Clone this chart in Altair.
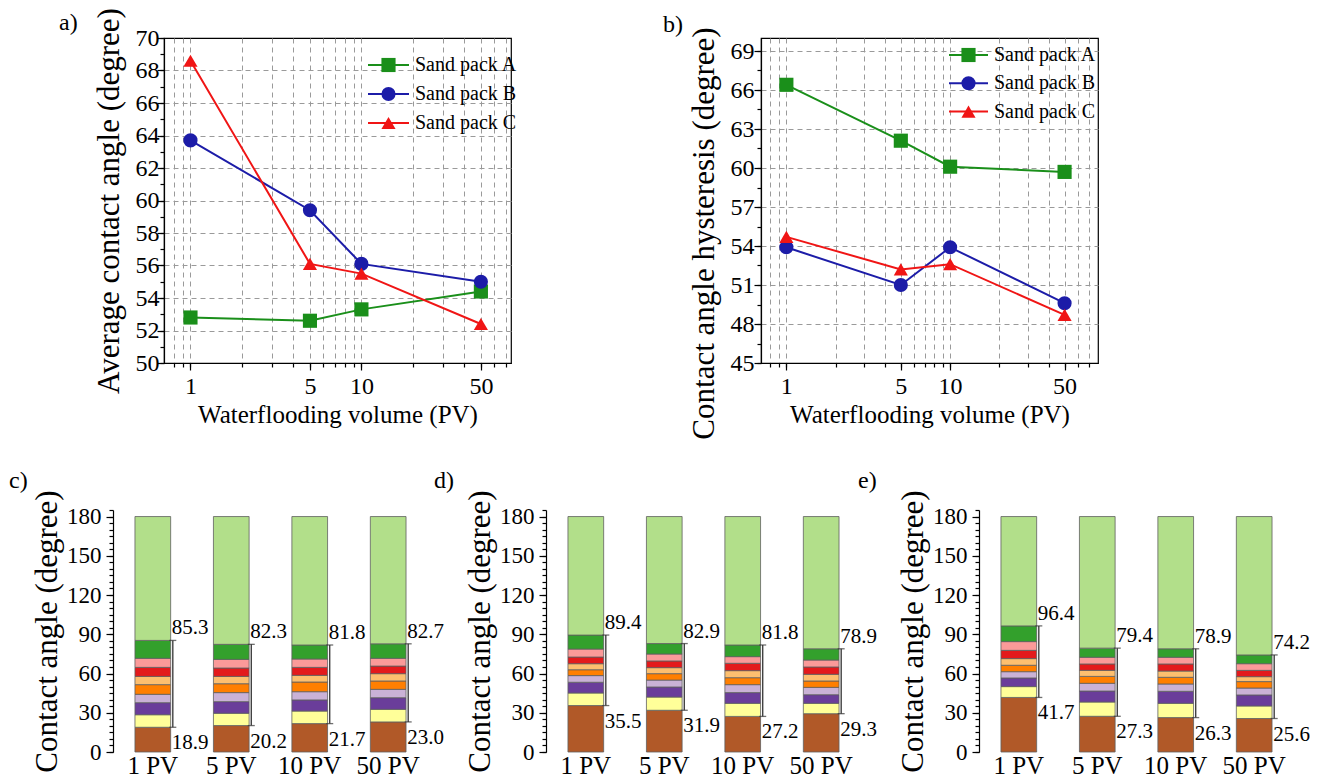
import altair as alt
import pandas as pd

FONT = "Liberation Serif"

# ---------------- data: panels a) and b) ----------------
PV = [1, 5, 10, 50]
SERIES = ["Sand pack A", "Sand pack B", "Sand pack C"]

AVG_A = [52.8, 52.6, 53.3, 54.4]
AVG_B = [63.7, 59.4, 56.1, 55.0]
AVG_C = [68.6, 56.1, 55.5, 52.4]

HYS_A = [66.4, 62.1, 60.1, 59.7]
HYS_B = [53.9, 51.0, 53.9, 49.6]
HYS_C = [54.7, 52.2, 52.6, 48.7]

A_Y_MAJOR = [50, 52, 54, 56, 58, 60, 62, 64, 66, 68, 70]
A_Y_MINOR = [50, 51, 52, 53, 54, 55, 56, 57, 58, 59, 60, 61, 62, 63, 64, 65, 66, 67, 68, 69, 70]
A_Y_GRID = [52, 54, 56, 58, 60, 62, 64, 66, 68]
B_Y_MAJOR = [45, 48, 51, 54, 57, 60, 63, 66, 69]
B_Y_MINOR = [45, 46.5, 48, 49.5, 51, 52.5, 54, 55.5, 57, 58.5, 60, 61.5, 63, 64.5, 66, 67.5, 69]
B_Y_GRID = [48, 51, 54, 57, 60, 63, 66, 69]
X_GRID = [0.8, 0.9, 1, 2, 3, 4, 5, 6, 7, 8, 9, 10, 20, 30, 40, 50, 60, 70]

LINE_COLORS = ["#1a8f1a", "#1c1ca8", "#f01515"]
SHAPES = ["square", "circle", "triangle-up"]

# ---------------- data: panels c) d) e) ----------------
PV_LABELS = ["1 PV", "5 PV", "10 PV", "50 PV"]
SEGMENTS = ["s01", "s02", "s03", "s04", "s05", "s06", "s07", "s08", "s09", "s10"]
SEG_COLORS = ["#b15928", "#ffff99", "#6a3d9a", "#cab2d6", "#ff7f00",
              "#fdbf6f", "#e31a1c", "#fb9a99", "#33a02c", "#b2df8a"]
BAR_TOP = 180

# upper edges of the first nine stacked segments (the tenth runs to 180)
C_EDGES = [
    [18.9, 28.5, 37.7, 44.1, 51.5, 57.8, 64.7, 71.6, 85.3],
    [20.2, 29.6, 38.5, 45.4, 52.2, 57.8, 64.2, 70.8, 82.3],
    [21.7, 31.3, 39.8, 46.1, 53.5, 58.6, 64.7, 71.1, 81.8],
    [23.0, 32.6, 41.5, 47.9, 54.3, 59.9, 65.7, 71.6, 82.7],
]
D_EDGES = [
    [35.5, 45.1, 53.3, 58.4, 62.9, 67.5, 72.6, 78.7, 89.4],
    [31.9, 42.0, 49.7, 55.0, 59.9, 64.5, 69.6, 74.9, 82.9],
    [27.2, 37.2, 45.4, 51.5, 56.8, 62.2, 67.8, 72.9, 81.8],
    [29.3, 37.2, 43.8, 49.4, 54.3, 59.4, 65.0, 70.3, 78.9],
]
E_EDGES = [
    [41.7, 50.0, 56.6, 61.4, 66.3, 71.4, 77.7, 84.4, 96.4],
    [27.3, 38.2, 46.6, 52.5, 57.8, 62.4, 67.3, 72.4, 79.4],
    [26.3, 37.2, 46.4, 52.0, 57.1, 61.9, 67.3, 72.4, 78.9],
    [25.6, 35.2, 43.6, 48.9, 53.8, 57.6, 62.4, 67.5, 74.2],
]
BAR_Y_MAJOR = [0, 30, 60, 90, 120, 150, 180]
BAR_Y_MINOR = [0, 5, 10, 15, 20, 25, 30, 35, 40, 45, 50, 55, 60, 65, 70, 75, 80, 85, 90,
               95, 100, 105, 110, 115, 120, 125, 130, 135, 140, 145, 150, 155, 160, 165,
               170, 175, 180, 185]

ONE = pd.DataFrame({"k": [0]})
GRID_COLOR = "#9a9a9a"
BAR_W, BAR_H = 315, 242


def anchor(x, y):
    return alt.Chart(ONE).mark_rule(opacity=0, strokeWidth=0).encode(
        x=alt.value(x), x2=alt.value(x), y=alt.value(y), y2=alt.value(y))


def panel_label(text, x, y):
    return alt.Chart(ONE).mark_text(align="left", baseline="alphabetic", fontSize=24,
                                    font=FONT, color="black").encode(
        x=alt.value(x), y=alt.value(y), text=alt.value(text))


def line_panel(vals, y_dom, y_major, y_minor, y_grid, x_dom, width, height, y_title,
               y_lab_pad, title_y, label, label_xy, legend_geo, anchors):
    rows = [{"pv": p, "series": s, "value": v}
            for s, vs in zip(SERIES, vals) for p, v in zip(PV, vs)]
    df = pd.DataFrame(rows)
    xs = alt.Scale(type="log", domain=x_dom, nice=False)
    ys = alt.Scale(domain=y_dom, nice=False, zero=False)
    col = alt.Color("series:N", scale=alt.Scale(domain=SERIES, range=LINE_COLORS), legend=None)
    shp = alt.Shape("series:N", scale=alt.Scale(domain=SERIES, range=SHAPES), legend=None)
    base = alt.Chart(df)

    grid_layer = base.mark_point(opacity=0).encode(
        x=alt.X("pv:Q", scale=xs, axis=alt.Axis(
            orient="bottom", values=X_GRID, grid=True, gridDash=[5, 4], gridColor=GRID_COLOR,
            gridWidth=1, labels=False, ticks=True, tickSize=4, domain=False, title=None)),
        y=alt.Y("value:Q", scale=ys, axis=alt.Axis(
            orient="left", values=y_grid, grid=True, gridDash=[5, 4], gridColor=GRID_COLOR,
            gridWidth=1, labels=False, ticks=False, domain=False, title=None)),
    )
    minor_layer = base.mark_point(opacity=0).encode(
        x=alt.X("pv:Q", scale=xs, axis=None),
        y=alt.Y("value:Q", scale=ys, axis=alt.Axis(
            orient="left", values=y_minor, labels=False, ticks=True, tickSize=4,
            grid=False, domain=False, title=None)),
    )
    y_axis_kw = dict(
        orient="left", values=y_major, format="d", grid=False, tickSize=7,
        labelFont=FONT, labelFontSize=24, labelPadding=y_lab_pad, labelFlush=False,
        labelOverlap=False, title=y_title, titleFont=FONT, titleFontSize=31, titlePadding=10)
    if title_y is not None:
        y_axis_kw["titleY"] = title_y
    line_layer = base.mark_line(strokeWidth=2).encode(
        x=alt.X("pv:Q", scale=xs, axis=alt.Axis(
            orient="bottom", values=PV, format="d", grid=False, tickSize=7,
            labelFont=FONT, labelFontSize=24, labelPadding=4, labelFlush=False,
            labelOverlap=False, title="Waterflooding volume (PV)", titleFont=FONT,
            titleFontSize=25, titlePadding=4)),
        y=alt.Y("value:Q", scale=ys, axis=alt.Axis(**y_axis_kw)),
        color=col,
    )
    point_layer = base.mark_point(filled=True, size=200, opacity=1).encode(
        x=alt.X("pv:Q", scale=xs, axis=None),
        y=alt.Y("value:Q", scale=ys, axis=None),
        color=col, shape=shp,
    )

    lx1, lx2, ltx, ly0, ldy = legend_geo
    legend = []
    for i, s in enumerate(SERIES):
        yy = ly0 + i * ldy
        d = pd.DataFrame({"series": [s]})
        legend.append(alt.Chart(d).mark_rule(color=LINE_COLORS[i], strokeWidth=2).encode(
            x=alt.value(lx1), x2=alt.value(lx2), y=alt.value(yy)))
        legend.append(alt.Chart(d).mark_point(filled=True, size=200, opacity=1,
                                              color=LINE_COLORS[i], shape=SHAPES[i]).encode(
            x=alt.value((lx1 + lx2) / 2), y=alt.value(yy)))
        legend.append(alt.Chart(d).mark_text(align="left", baseline="middle", fontSize=20,
                                             font=FONT, color="black").encode(
            x=alt.value(ltx), y=alt.value(yy), text="series:N"))

    layers = [grid_layer, minor_layer, line_layer, point_layer] + legend + \
        [panel_label(label, *label_xy)] + [anchor(ax, ay) for ax, ay in anchors]
    return alt.layer(*layers).resolve_axis(x="independent", y="independent").properties(
        width=width, height=height, view=alt.ViewBackground(stroke="black", strokeWidth=1.2))


def bar_panel(edges, label, label_xy, anchors):
    seg_rows = []
    for pvl, b in zip(PV_LABELS, edges):
        e = [0] + list(b) + [BAR_TOP]
        for k, seg in enumerate(SEGMENTS):
            seg_rows.append({"pv": pvl, "seg": seg, "lo": e[k], "hi": e[k + 1]})
    seg_df = pd.DataFrame(seg_rows)
    err_df = pd.DataFrame({"pv": PV_LABELS,
                           "lo": [b[0] for b in edges],
                           "hi": [b[-1] for b in edges]})
    xs = alt.Scale(domain=PV_LABELS, paddingInner=0.545, paddingOuter=0.28)
    ys = alt.Scale(domain=[0, 185], nice=False, zero=True)
    xna = alt.X("pv:N", scale=xs, axis=None)

    bars = alt.Chart(seg_df).mark_bar(stroke="#606060", strokeWidth=0.8).encode(
        x=alt.X("pv:N", scale=xs, axis=alt.Axis(
            orient="bottom", ticks=False, labels=False, title=None)),
        y=alt.Y("lo:Q", scale=ys, axis=alt.Axis(
            orient="left", values=BAR_Y_MAJOR, tickSize=7, labelFont=FONT, labelFontSize=23,
            labelPadding=5, grid=False, title="Contact angle (degree)", titleFont=FONT,
            titleFontSize=31, titlePadding=3)),
        y2="hi:Q",
        color=alt.Color("seg:N", scale=alt.Scale(domain=SEGMENTS, range=SEG_COLORS), legend=None),
    )
    x_labels = alt.Chart(pd.DataFrame({"pv": PV_LABELS})).mark_text(
        baseline="top", align="center", fontSize=25, font=FONT, color="black").encode(
        x=xna, y=alt.value(BAR_H + 2), text="pv:N")
    err = alt.Chart(err_df).mark_rule(xOffset=20, color="#333333", strokeWidth=1.3).encode(
        x=xna,
        y=alt.Y("lo:Q", scale=ys, axis=alt.Axis(
            orient="left", values=BAR_Y_MINOR, tickSize=4, labels=False, grid=False,
            domain=False, title=None)),
        y2="hi:Q",
    )
    cap_lo = alt.Chart(err_df).mark_tick(xOffset=20, size=7, thickness=1.3, color="#333333",
                                         orient="horizontal").encode(
        x=xna, y=alt.Y("lo:Q", scale=ys, axis=None))
    cap_hi = alt.Chart(err_df).mark_tick(xOffset=20, size=7, thickness=1.3, color="#333333",
                                         orient="horizontal").encode(
        x=xna, y=alt.Y("hi:Q", scale=ys, axis=None))
    t_hi = alt.Chart(err_df).mark_text(align="left", baseline="alphabetic", dx=19, dy=-6,
                                       fontSize=21, font=FONT, color="black").encode(
        x=xna, y=alt.Y("hi:Q", scale=ys, axis=None), text=alt.Text("hi:Q", format=".1f"))
    t_lo = alt.Chart(err_df).mark_text(align="left", baseline="alphabetic", dx=19, dy=22,
                                       fontSize=21, font=FONT, color="black").encode(
        x=xna, y=alt.Y("lo:Q", scale=ys, axis=None), text=alt.Text("lo:Q", format=".1f"))

    layers = [bars, err, cap_lo, cap_hi, t_hi, t_lo, x_labels, panel_label(label, *label_xy)] + \
        [anchor(ax, ay) for ax, ay in anchors]
    return alt.layer(*layers).resolve_axis(y="independent").properties(width=BAR_W, height=BAR_H)


chart_a = line_panel([AVG_A, AVG_B, AVG_C], [50, 70], A_Y_MAJOR, A_Y_MINOR, A_Y_GRID,
                     [0.7, 75], 347, 325, "Average contact angle (degree)", -2, None,
                     "a)", (-105, -8), (204, 245, 251, 27, 29),
                     [(-163, -37), (-163, 403)])
chart_b = line_panel([HYS_A, HYS_B, HYS_C], [45, 70], B_Y_MAJOR, B_Y_MINOR, B_Y_GRID,
                     [0.7, 80], 337, 325, "Contact angle hysteresis (degree)", 0, 195,
                     "b)", (-98, -6), (188, 227, 233, 17, 28.3), [])

chart_c = bar_panel(C_EDGES, "c)", (-104, -21.6), [(-112, -55.6)])
chart_d = bar_panel(D_EDGES, "d)", (-112, -21.6), [])
chart_e = bar_panel(E_EDGES, "e)", (-121, -21.6), [])

spacer = alt.Chart(ONE).mark_point(opacity=0).properties(width=51, height=10)
top_inner = alt.hconcat(chart_a, chart_b, spacing=250, bounds="flush")
top_row = alt.hconcat(spacer, top_inner, spacing=0, bounds="flush")
bottom_row = alt.hconcat(chart_c, chart_d, chart_e, spacing=118, bounds="flush")

chart = alt.vconcat(top_row, bottom_row, spacing=11).resolve_scale(
    color="independent", shape="independent"
).properties(padding=0).configure(
    font=FONT
).configure_view(
    stroke="transparent"
).configure_axis(
    labelFont=FONT, titleFont=FONT, titleFontWeight="normal",
    labelColor="black", titleColor="black", domainColor="black", tickColor="black",
    domainWidth=1.2, tickWidth=1.2
)

chart.save("out.html", embed_options={"renderer": "svg", "actions": False})
